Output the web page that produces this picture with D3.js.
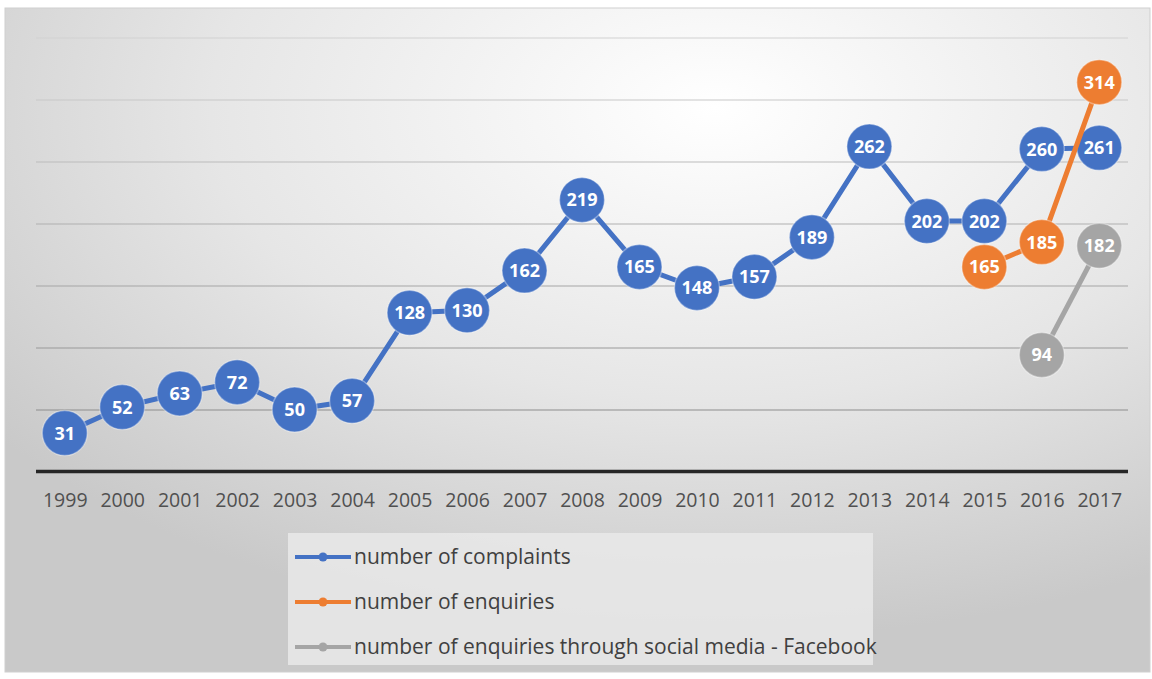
<!DOCTYPE html>
<html>
<head>
<meta charset="utf-8">
<script src="https://cdn.jsdelivr.net/npm/d3@7"></script>
<style>
html,body{margin:0;padding:0;background:#fff;}
svg{display:block;}
</style>
</head>
<body>
<svg id="chart" width="1152" height="679"></svg>
<script>
const years = ["1999","2000","2001","2002","2003","2004","2005","2006","2007","2008","2009","2010","2011","2012","2013","2014","2015","2016","2017"];
const complaints = [31,52,63,72,50,57,128,130,162,219,165,148,157,189,262,202,202,260,261];
const enquiryYears = ["2015","2016","2017"];
const enquiries = [165,185,314];
const facebookYears = ["2016","2017"];
const facebook = [94,182];
const yTicks = [0,50,100,150,200,250,300,350];
const seriesNames = ["number of complaints","number of enquiries","number of enquiries through social media - Facebook"];
const seriesColors = ["#4472C4","#ED7D31","#A5A5A5"];

const svg = d3.select("#chart");
const defs = svg.append("defs");
const grad = defs.append("radialGradient").attr("id","bg")
  .attr("cx","62%").attr("cy","15%").attr("r","80%");
grad.append("stop").attr("offset","0%").attr("stop-color","#ffffff");
grad.append("stop").attr("offset","55%").attr("stop-color","#e6e6e6");
grad.append("stop").attr("offset","100%").attr("stop-color","#c9c9c9");

svg.append("rect").attr("x",5).attr("y",8).attr("width",1145).attr("height",664)
  .attr("fill","url(#bg)").attr("stroke","#cfcfcf").attr("stroke-width",1);

const x = d3.scalePoint().domain(years).range([36,1128]).padding(0.5);
const y = d3.scaleLinear().domain([0,350]).range([471.5,37.5]);

// gridlines (lighter near top, darker near bottom as in reference)
const gridShade = d3.scaleLinear().domain([350,50]).range(["#d2d2d2","#8e8e8e"]);
const grid = svg.append("g").attr("transform","translate(36,0)")
  .call(d3.axisLeft(y).tickValues(yTicks.slice(1)).tickSize(-(1128-36)).tickFormat(""));
grid.select(".domain").remove();
grid.selectAll(".tick line").attr("stroke",d=>gridShade(d)).attr("stroke-width",1.2);

// x axis
const xa = svg.append("g").attr("transform",`translate(0,${y(0)})`)
  .call(d3.axisBottom(x).tickSize(0).tickPadding(22));
xa.select(".domain").attr("stroke","#262626").attr("stroke-width",3.5).attr("d","M36,0H1128");
xa.selectAll("text").attr("font-family","'Open Sans', sans-serif").attr("font-size",19.5)
  .attr("fill","#505050");

function drawSeries(cats, vals, color){
  const data = cats.map((c,i)=>({c, v: vals[i]}));
  const g = svg.append("g");
  g.append("path").datum(data)
    .attr("d", d3.line().x(d=>x(d.c)).y(d=>y(d.v)))
    .attr("fill","none").attr("stroke",color).attr("stroke-width",5).attr("stroke-linejoin","round");
  const m = g.selectAll("g.m").data(data).join("g").attr("class","m")
    .attr("transform",d=>`translate(${x(d.c)},${y(d.v)})`);
  m.append("circle").attr("r",22.5).attr("fill",color)
    .attr("stroke","rgba(255,255,255,0.35)").attr("stroke-width",1.5);
  m.append("text").text(d=>d.v).attr("text-anchor","middle").attr("dy","0.36em")
    .attr("font-family","'Open Sans', sans-serif").attr("font-weight","bold").attr("font-size",18)
    .attr("fill","#ffffff");
}
drawSeries(years, complaints, seriesColors[0]);
drawSeries(enquiryYears, enquiries, seriesColors[1]);
drawSeries(facebookYears, facebook, seriesColors[2]);

// legend
const lg = svg.append("g");
lg.append("rect").attr("x",288).attr("y",533).attr("width",585).attr("height",132)
  .attr("fill","#e9e9e9").attr("opacity",0.85);
const ly = d3.scalePoint().domain(seriesNames).range([557,647]);
seriesNames.forEach((n,i)=>{
  const yy = ly(n);
  lg.append("line").attr("x1",295).attr("x2",351).attr("y1",yy).attr("y2",yy)
    .attr("stroke",seriesColors[i]).attr("stroke-width",4);
  lg.append("circle").attr("cx",323).attr("cy",yy).attr("r",4.5).attr("fill",seriesColors[i]);
  lg.append("text").attr("x",354).attr("y",yy).attr("dy","0.35em").text(n)
    .attr("font-family","'Open Sans', sans-serif").attr("font-size",21).attr("fill","#404040");
});
</script>
</body>
</html>
